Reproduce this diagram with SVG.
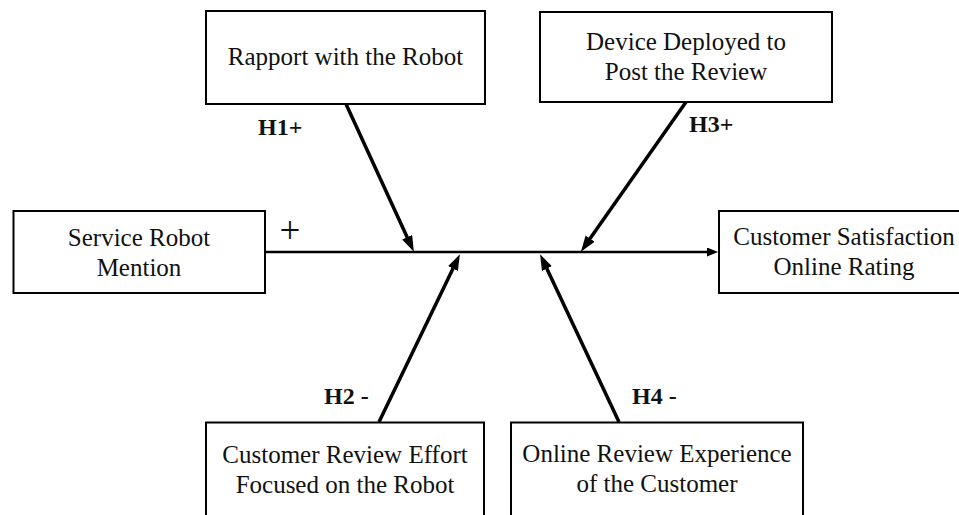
<svg xmlns="http://www.w3.org/2000/svg" width="959" height="515" viewBox="0 0 959 515">
<defs>
<style>
.box{fill:#fff;stroke:#000;stroke-width:2}
.t{font-family:"Liberation Serif","Times New Roman",serif;font-size:25px;fill:#111;text-anchor:middle}
.h{font-family:"Liberation Serif","Times New Roman",serif;font-size:24px;font-weight:bold;fill:#111}
.arr{stroke:#000;stroke-width:3.5;fill:none;marker-end:url(#ah)}
.main{stroke:#000;stroke-width:2.5;fill:none;marker-end:url(#ahs)}
</style>
<marker id="ah" markerUnits="userSpaceOnUse" markerWidth="17" markerHeight="12" refX="8" refY="5.5" orient="auto">
<path d="M0,0 L16,5.5 L0,11 z" fill="#000"/>
</marker>
<marker id="ahs" markerUnits="userSpaceOnUse" markerWidth="12" markerHeight="10" refX="5" refY="4.5" orient="auto">
<path d="M0,0 L11,4.5 L0,9 z" fill="#000"/>
</marker>
</defs>
<rect width="959" height="515" fill="#fff"/>
<g id="connectors">
<path class="main" d="M265,252 H712"/>
<path class="arr" d="M346,104 L410.5,244.5"/>
<path class="arr" d="M686,102 L585.5,245.1"/>
<path class="arr" d="M379,422 L456.4,261.4"/>
<path class="arr" d="M619,422 L543.5,261.4"/>
<text class="h" x="258" y="135">H1+</text>
<text class="h" x="689" y="132">H3+</text>
<text class="h" x="324" y="404">H2 -</text>
<text class="h" x="632" y="404">H4 -</text>
<text x="290" y="243" font-family="Liberation Serif, serif" font-size="37" text-anchor="middle" fill="#111">+</text>
</g>
<g id="rapport">
<rect class="box" x="206" y="11" width="279" height="93"/>
<text class="t" x="345.5" y="65">Rapport with the Robot</text>
</g>
<g id="device">
<rect class="box" x="540" y="12" width="292" height="90"/>
<text class="t" x="686" y="50">Device Deployed to</text>
<text class="t" x="686" y="80">Post the Review</text>
</g>
<g id="service">
<rect class="box" x="13.5" y="211" width="251.5" height="82"/>
<text class="t" x="139" y="246">Service Robot</text>
<text class="t" x="139" y="276">Mention</text>
</g>
<g id="satisfaction">
<rect class="box" x="719" y="211" width="250" height="82"/>
<text class="t" x="844" y="245">Customer Satisfaction</text>
<text class="t" x="844" y="275">Online Rating</text>
</g>
<g id="effort">
<rect class="box" x="206" y="422.5" width="278" height="100"/>
<text class="t" x="345" y="463">Customer Review Effort</text>
<text class="t" x="345" y="493">Focused on the Robot</text>
</g>
<g id="experience">
<rect class="box" x="511" y="422.5" width="292" height="100"/>
<text class="t" x="657" y="462">Online Review Experience</text>
<text class="t" x="657" y="492">of the Customer</text>
</g>
</svg>
